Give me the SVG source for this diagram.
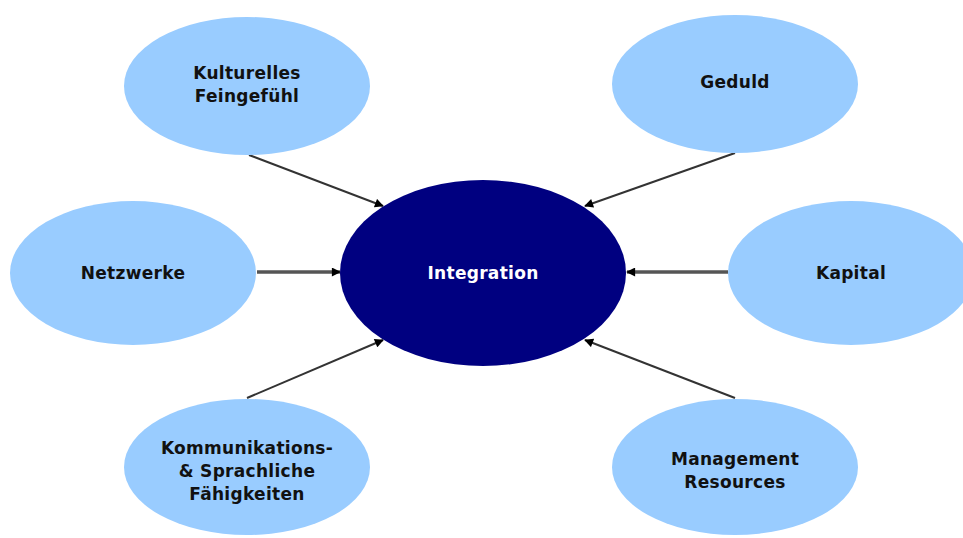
<svg xmlns="http://www.w3.org/2000/svg" width="963" height="538" viewBox="0 0 963 538">
  <style>
    .sat { fill: #99CCFF; }
    .hub { fill: #000080; }
    .lbl { font-family: "DejaVu Sans", Verdana, sans-serif; font-weight: bold; font-size: 17px; letter-spacing: 0.3px; fill: #111; text-anchor: middle; }
    .hub-lbl { fill: #FFFFFF; }
    .link { stroke: #333333; stroke-width: 2; fill: none; marker-end: url(#head); }
    .link-h { stroke: #555555; stroke-width: 3.5; fill: none; marker-end: url(#head); }
  </style>
  <defs>
    <marker id="head" viewBox="0 0 10 10" refX="9" refY="5" markerWidth="10" markerHeight="9" markerUnits="userSpaceOnUse" orient="auto">
      <path d="M0,0 L10,5 L0,10 z" fill="#000"/>
    </marker>
  </defs>
  <rect width="963" height="538" fill="#FFFFFF"/>

  <g id="connectors">
    <line class="link" x1="249" y1="155" x2="383" y2="206"/>
    <line class="link" x1="735" y1="153" x2="585" y2="206"/>
    <line class="link-h" x1="257" y1="272" x2="340" y2="272"/>
    <line class="link-h" x1="728" y1="272" x2="627" y2="272"/>
    <line class="link" x1="247" y1="398" x2="383" y2="340"/>
    <line class="link" x1="735" y1="398" x2="585" y2="340"/>
  </g>

  <g id="integration">
    <ellipse class="hub" cx="483" cy="273" rx="143" ry="93"/>
    <text class="lbl hub-lbl" x="483" y="279">Integration</text>
  </g>

  <g id="kulturelles-feingefuehl">
    <ellipse class="sat" cx="247" cy="86" rx="123" ry="69"/>
    <text class="lbl" x="247" y="79">Kulturelles</text>
    <text class="lbl" x="247" y="102">Feingefühl</text>
  </g>

  <g id="geduld">
    <ellipse class="sat" cx="735" cy="84" rx="123" ry="69"/>
    <text class="lbl" x="735" y="88">Geduld</text>
  </g>

  <g id="netzwerke">
    <ellipse class="sat" cx="133" cy="273" rx="123" ry="72"/>
    <text class="lbl" x="133" y="279">Netzwerke</text>
  </g>

  <g id="kapital">
    <ellipse class="sat" cx="851" cy="273" rx="123" ry="72"/>
    <text class="lbl" x="851" y="279">Kapital</text>
  </g>

  <g id="kommunikation">
    <ellipse class="sat" cx="247" cy="467" rx="123" ry="68"/>
    <text class="lbl" x="247" y="454">Kommunikations-</text>
    <text class="lbl" x="247" y="477">&amp; Sprachliche</text>
    <text class="lbl" x="247" y="500">Fähigkeiten</text>
  </g>

  <g id="management-resources">
    <ellipse class="sat" cx="735" cy="467" rx="123" ry="68"/>
    <text class="lbl" x="735" y="465">Management</text>
    <text class="lbl" x="735" y="488">Resources</text>
  </g>
</svg>
